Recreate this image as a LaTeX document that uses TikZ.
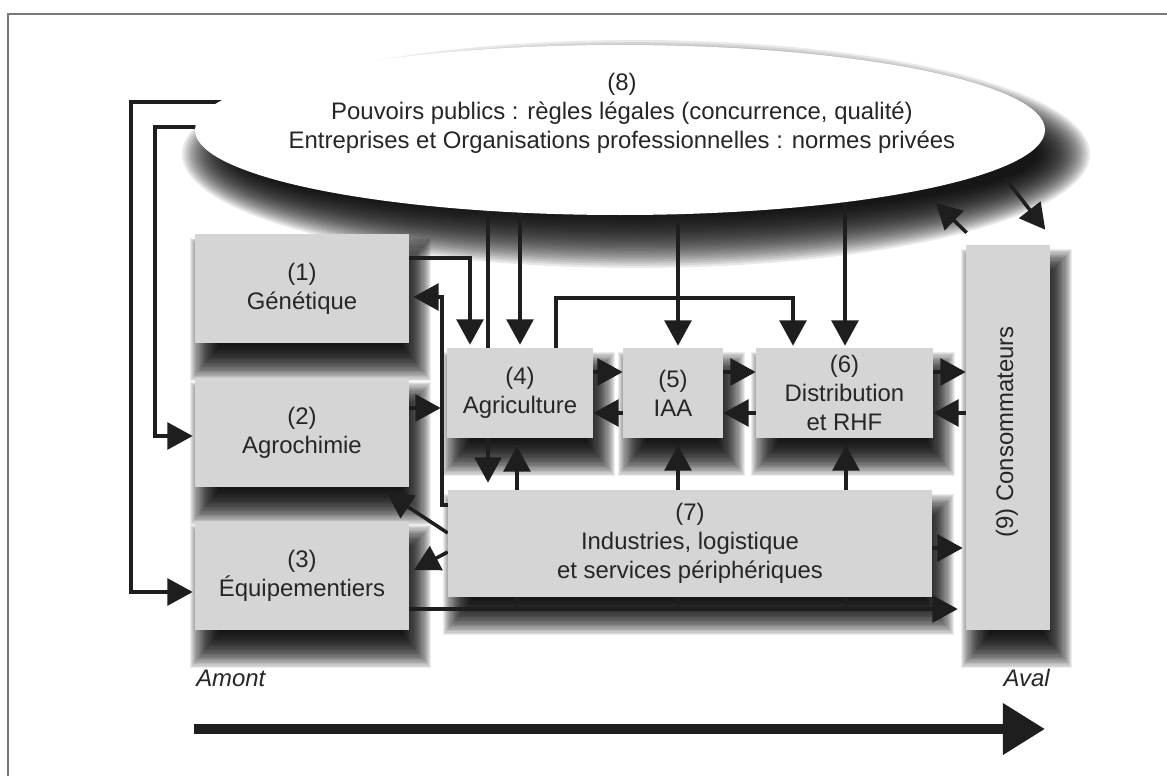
\documentclass[tikz,border=0pt]{standalone}
\usepackage{fontspec}
\setmainfont{Liberation Sans}
\usetikzlibrary{arrows.meta,calc,shapes.geometric}
\pgfdeclarelayer{bg}
\pgfdeclarelayer{shad}
\pgfdeclarelayer{conns}
\pgfsetlayers{bg,shad,conns,main}
\definecolor{boxgray}{RGB}{213,213,213}
\definecolor{linec}{RGB}{30,30,30}
\definecolor{txtc}{RGB}{38,38,38}
\definecolor{framec}{RGB}{120,120,120}
\newcommand\dfont{\fontsize{17}{20.5}\selectfont}
\newcommand\boxshadow[1]{%
  \foreach \k in {0,...,27}{%
    \fill[black, opacity=0.075] ($(#1.north west)+({-5+\k*1.1},{4+\k*1.2})$) rectangle ($(#1.south east)+({22-\k*1.1},{38-\k*1.3})$);%
  }}
\begin{document}
\begin{tikzpicture}[x=0.025cm,y=-0.025cm,
  sz/.style 2 args={minimum width=#1*0.025cm, minimum height=#2*0.025cm},
  box/.style={draw=none, fill=boxgray, inner sep=0pt, align=center, font=\dfont, text=txtc},
  bigell/.style={ellipse, draw=none, fill=white, inner sep=0pt},
  txt/.style={inner sep=0pt, align=center, font=\dfont, text=txtc},
  conn/.style={draw=linec, line width=2.5pt},
  arr/.style={conn, -{Triangle[length=18pt,width=19pt]}},
  sh/.style={shorten >=#1*0.025cm},
]
\useasboundingbox (0,0) rectangle (1167,776);
\begin{pgfonlayer}{bg}
\fill[white] (0,0) rectangle (1167,776);
\draw[framec, line width=1pt] (8,776) -- (8,14) -- (1167,14);
\end{pgfonlayer}

% ellipse (8)
\node[bigell, sz={850}{170}] (ell) at (620,130) {};
\node[txt] (ellt) at (622,113) {(8)\\Pouvoirs publics : règles légales (concurrence, qualité)\\Entreprises et Organisations professionnelles : normes privées};

% boxes
\node[box, sz={214}{109}] (n1) at (302,288.5) {(1)\\Génétique};
\node[box, sz={214}{109}] (n2) at (302,432.5) {(2)\\Agrochimie};
\node[box, sz={214}{109}] (n3) at (302,575.5) {(3)\\Équipementiers};
\node[box, sz={146}{90}] (n4) at (520,393) {(4)\\Agriculture};
\node[box, sz={100}{90}] (n5) at (673,393) {(5)\\IAA};
\node[box, sz={177}{90}] (n6) at (844.5,393) {(6)\\Distribution\\et RHF};
\node[box, sz={484}{107}] (n7) at (690,543.5) {(7)\\Industries, logistique\\et services périphériques};
\node[box, sz={84}{385}] (n9) at (1008,437.5) {};
\node[txt, rotate=90] (n9t) at (1007,432) {(9) Consommateurs};

% labels
\node[txt, anchor=west, font=\dfont\itshape] (amont) at (196,678) {Amont};
\node[txt, anchor=east, font=\dfont\itshape] (aval) at (1050,678) {Aval};

% soft shadows
\begin{pgfonlayer}{shad}
\foreach \k in {0,...,24} {
  \fill[black, opacity=0.085] (636,154) ellipse [x radius={(454-\k*2.2)*0.025cm}, y radius={(114-\k*2.2)*0.025cm}];
}
\boxshadow{n1}\boxshadow{n2}\boxshadow{n3}\boxshadow{n4}\boxshadow{n5}
\boxshadow{n6}\boxshadow{n7}\boxshadow{n9}
\end{pgfonlayer}

% named junction points
\coordinate (j4) at (517,609);
\coordinate (j5) at (678,609);
\coordinate (j6) at (846,609);
\coordinate (t2) at (387,493);
\coordinate (t3) at (414,570);
\coordinate (te) at (936,203);
\coordinate (se) at (1005,178);
\coordinate (bs) at (194,729);
\coordinate (be) at (1045,729);

\begin{pgfonlayer}{conns}
% from ellipse down
\draw[arr, sh=7] (ell.center -| 488,0) -- (n7.north -| 488,0);
\draw[arr, sh=3] (ell.center -| 520,0) -- (n4.north -| 520,0);
\draw[arr, sh=2] (ell.center -| 678,0) -- (n5.north -| 678,0);
\draw[arr, sh=2] (ell.center -| 845,0) -- (n6.north -| 845,0);
% (4) -> (6)
\draw[arr, sh=2] (n4.north -| 556,0) |- (793,298) -- (n6.north -| 793,0);
% (1) -> (4)
\draw[arr, sh=3] (n1.east |- 0,258) -| (n4.north -| 470,0);
% (7) -> (1)
\draw[arr, sh=4] (n7.west |- 0,505) -| (442,297) -- (n1.east |- 0,297);
% (2) -> (4)
\draw[arr, sh=6] (n2.east |- 0,408) -- (n4.west |- 0,408);
% ellipse -> (3), ellipse -> (2)
\draw[arr, sh=2] (ell.center |- 0,102) -| (131,592) -- (n3.west |- 0,592);
\draw[arr, sh=2] (ell.center |- 0,127) -| (155,436) -- (n2.west |- 0,436);
% bottom line (3) -> (9)
\draw[arr, sh=8] (n3.east |- 0,609) -- (n9.west |- 0,609);
% up arrows
\draw[arr, sh=8] (j4) -- (n4.south -| j4);
\draw[arr, sh=7] (j5) -- (n5.south -| j5);
\draw[arr, sh=7] (j6) -- (n6.south -| j6);
% horizontal pairs
\draw[arr] (n4.east |- 0,372) -- (n5.west |- 0,372);
\draw[arr] (n5.west |- 0,413) -- (n4.east |- 0,413);
\draw[arr] (n5.east |- 0,372) -- (n6.west |- 0,372);
\draw[arr] (n6.west |- 0,413) -- (n5.east |- 0,413);
\draw[arr] (n6.east |- 0,372) -- (n9.west |- 0,372);
\draw[arr] (n9.west |- 0,413) -- (n6.east |- 0,413);
\draw[arr, sh=3] (n7.east |- 0,548) -- (n9.west |- 0,548);
% diagonals from (7)
\draw[arr] (n7.west |- 0,533) -- (t2);
\draw[arr] (n7.west |- 0,552) -- (t3);
% ellipse <-> (9)
\draw[arr] ($(n9.north west)+(1,-12)$) -- (te);
\draw[arr] (se) -- ($(n9.north east)+(-5,-15)$);
% big flow arrow
\draw[draw=linec, line width=7.1pt, -{Triangle[length=30pt,width=35pt]}] (bs) -- (be);
\end{pgfonlayer}
\end{tikzpicture}
\end{document}
